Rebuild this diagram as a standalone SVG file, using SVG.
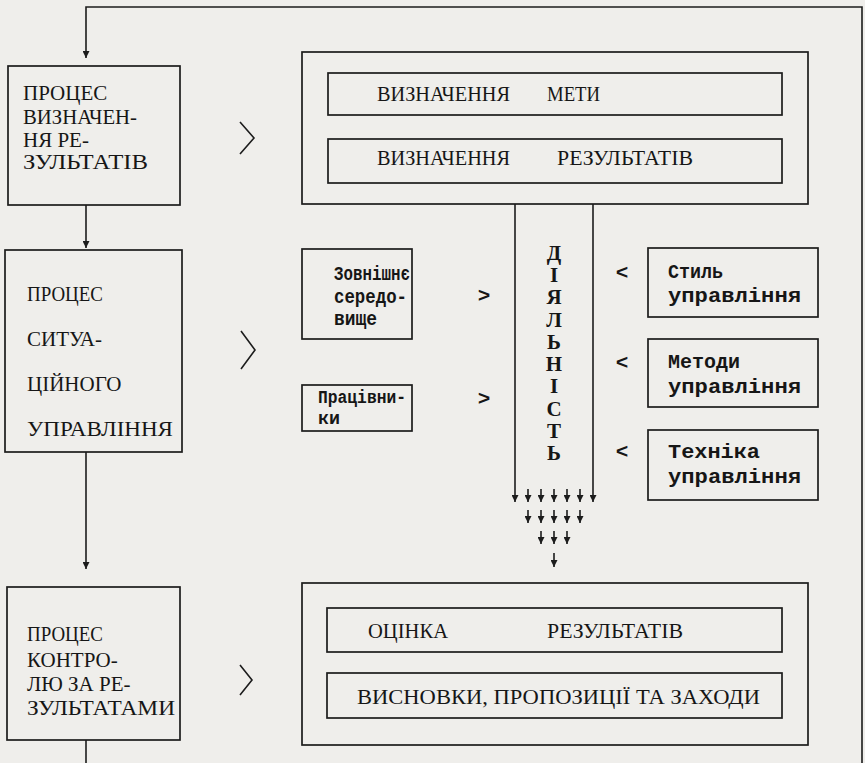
<svg xmlns="http://www.w3.org/2000/svg" width="865" height="763" viewBox="0 0 865 763">
<style>
.bg{fill:#efeeeb}
.box{fill:none;stroke:#1c1c1c;stroke-width:1.7}
.ln{fill:none;stroke:#1c1c1c;stroke-width:1.6}
.cap{font-family:"Liberation Serif","Times New Roman",serif;font-size:21px;fill:#161616}
.mono{font-family:"Liberation Mono","Courier New",monospace;font-size:21px;font-weight:bold;fill:#161616}
.mono2{font-family:"Liberation Mono","Courier New",monospace;font-size:18px;font-weight:bold;fill:#161616}
.vl{font-family:"Liberation Serif","Times New Roman",serif;font-size:21px;font-weight:bold;fill:#161616;text-anchor:middle}
</style>
<defs>
<marker id="ah" viewBox="0 0 10 10" refX="10" refY="5" markerWidth="7" markerHeight="7" markerUnits="userSpaceOnUse" orient="auto"><path d="M0,0 L10,5 L0,10 z" fill="#1c1c1c"/></marker>
</defs>
<rect class="bg" x="0" y="0" width="865" height="763"/>

<g id="connectors">
  <polyline class="ln" points="862,763 862,7 86,7 86,58" marker-end="url(#ah)"/>
  <line class="ln" x1="86" y1="205" x2="86" y2="248" marker-end="url(#ah)"/>
  <line class="ln" x1="86" y1="452" x2="86" y2="569" marker-end="url(#ah)"/>
  <line class="ln" x1="86" y1="740" x2="86" y2="763"/>
  <polyline class="ln" points="240,122 254,138 240,154"/>
  <polyline class="ln" points="241,331 255,350 241,369"/>
  <polyline class="ln" points="240,665 252,680 240,695"/>
  <line class="ln" x1="515" y1="204" x2="515" y2="502" marker-end="url(#ah)"/>
  <line class="ln" x1="593" y1="204" x2="593" y2="502" marker-end="url(#ah)"/>
  <line class="ln" x1="528" y1="489" x2="528" y2="502" marker-end="url(#ah)"/>
  <line class="ln" x1="541" y1="489" x2="541" y2="502" marker-end="url(#ah)"/>
  <line class="ln" x1="554" y1="489" x2="554" y2="502" marker-end="url(#ah)"/>
  <line class="ln" x1="567" y1="489" x2="567" y2="502" marker-end="url(#ah)"/>
  <line class="ln" x1="580" y1="489" x2="580" y2="502" marker-end="url(#ah)"/>
  <line class="ln" x1="528" y1="510" x2="528" y2="523" marker-end="url(#ah)"/>
  <line class="ln" x1="541" y1="510" x2="541" y2="523" marker-end="url(#ah)"/>
  <line class="ln" x1="554" y1="510" x2="554" y2="523" marker-end="url(#ah)"/>
  <line class="ln" x1="567" y1="510" x2="567" y2="523" marker-end="url(#ah)"/>
  <line class="ln" x1="580" y1="510" x2="580" y2="523" marker-end="url(#ah)"/>
  <line class="ln" x1="541" y1="531" x2="541" y2="544" marker-end="url(#ah)"/>
  <line class="ln" x1="554" y1="531" x2="554" y2="544" marker-end="url(#ah)"/>
  <line class="ln" x1="567" y1="531" x2="567" y2="544" marker-end="url(#ah)"/>
  <line class="ln" x1="554" y1="553" x2="554" y2="567" marker-end="url(#ah)"/>
  <text class="mono" x="484" y="302" text-anchor="middle">&gt;</text>
  <text class="mono" x="484" y="405" text-anchor="middle">&gt;</text>
  <text class="mono" x="622" y="279" text-anchor="middle">&lt;</text>
  <text class="mono" x="622" y="369" text-anchor="middle">&lt;</text>
  <text class="mono" x="622" y="458" text-anchor="middle">&lt;</text>
</g>

<g id="proc1">
  <rect class="box" x="8" y="66" width="172" height="139"/>
  <text class="cap" x="23" y="100">ПРОЦЕС</text>
  <text class="cap" x="23" y="124" textLength="114" lengthAdjust="spacingAndGlyphs">ВИЗНАЧЕН-</text>
  <text class="cap" x="23" y="147">НЯ РЕ-</text>
  <text class="cap" x="23" y="169" textLength="125" lengthAdjust="spacingAndGlyphs">ЗУЛЬТАТІВ</text>
</g>

<g id="proc2">
  <rect class="box" x="5" y="250" width="177" height="202"/>
  <text class="cap" x="27" y="301" textLength="76" lengthAdjust="spacingAndGlyphs">ПРОЦЕС</text>
  <text class="cap" x="27" y="346">СИТУА-</text>
  <text class="cap" x="27" y="391">ЦІЙНОГО</text>
  <text class="cap" x="27" y="436" textLength="146" lengthAdjust="spacingAndGlyphs">УПРАВЛІННЯ</text>
</g>

<g id="proc3">
  <rect class="box" x="7" y="587" width="173" height="153"/>
  <text class="cap" x="27" y="641" textLength="76" lengthAdjust="spacingAndGlyphs">ПРОЦЕС</text>
  <text class="cap" x="27" y="667">КОНТРО-</text>
  <text class="cap" x="27" y="691">ЛЮ ЗА РЕ-</text>
  <text class="cap" x="27" y="715" textLength="148" lengthAdjust="spacingAndGlyphs">ЗУЛЬТАТАМИ</text>
</g>

<g id="goals">
  <rect class="box" x="302" y="52" width="506" height="152"/>
  <rect class="box" x="328" y="73" width="454" height="42"/>
  <text class="cap" x="377" y="101" textLength="133" lengthAdjust="spacingAndGlyphs">ВИЗНАЧЕННЯ</text>
  <text class="cap" x="547" y="101" textLength="53" lengthAdjust="spacingAndGlyphs">МЕТИ</text>
  <rect class="box" x="328" y="139" width="454" height="44"/>
  <text class="cap" x="377" y="165" textLength="133" lengthAdjust="spacingAndGlyphs">ВИЗНАЧЕННЯ</text>
  <text class="cap" x="557" y="165" textLength="136" lengthAdjust="spacingAndGlyphs">РЕЗУЛЬТАТІВ</text>
</g>

<g id="environment">
  <rect class="box" x="302" y="249" width="110" height="90"/>
  <text class="mono" x="334" y="280" textLength="76" lengthAdjust="spacingAndGlyphs">Зовнішнє</text>
  <text class="mono" x="334" y="303" textLength="73" lengthAdjust="spacingAndGlyphs">середо-</text>
  <text class="mono" x="334" y="325" textLength="43" lengthAdjust="spacingAndGlyphs">вище</text>
</g>

<g id="workers">
  <rect class="box" x="302" y="385" width="110" height="46"/>
  <text class="mono2" x="318" y="403" textLength="88" lengthAdjust="spacingAndGlyphs">Працівни-</text>
  <text class="mono2" x="318" y="424" textLength="22" lengthAdjust="spacingAndGlyphs">ки</text>
</g>

<g id="activity">
  <text class="vl" x="554" y="260">Д</text>
  <text class="vl" x="554" y="282">І</text>
  <text class="vl" x="554" y="304">Я</text>
  <text class="vl" x="554" y="327">Л</text>
  <text class="vl" x="554" y="349">Ь</text>
  <text class="vl" x="554" y="371">Н</text>
  <text class="vl" x="554" y="393">І</text>
  <text class="vl" x="554" y="416">С</text>
  <text class="vl" x="554" y="438">Т</text>
  <text class="vl" x="554" y="460">Ь</text>
</g>

<g id="style">
  <rect class="box" x="648" y="248" width="170" height="69"/>
  <text class="mono" x="668" y="278" textLength="55" lengthAdjust="spacingAndGlyphs">Стиль</text>
  <text class="mono" x="668" y="302" textLength="133" lengthAdjust="spacingAndGlyphs">управління</text>
</g>

<g id="methods">
  <rect class="box" x="648" y="339" width="170" height="68"/>
  <text class="mono" x="668" y="368" textLength="72" lengthAdjust="spacingAndGlyphs">Методи</text>
  <text class="mono" x="668" y="393" textLength="133" lengthAdjust="spacingAndGlyphs">управління</text>
</g>

<g id="technique">
  <rect class="box" x="648" y="430" width="170" height="70"/>
  <text class="mono" x="668" y="458" textLength="92" lengthAdjust="spacingAndGlyphs">Техніка</text>
  <text class="mono" x="668" y="483" textLength="133" lengthAdjust="spacingAndGlyphs">управління</text>
</g>

<g id="evaluation">
  <rect class="box" x="302" y="583" width="506" height="162"/>
  <rect class="box" x="327" y="608" width="455" height="44"/>
  <text class="cap" x="368" y="638" textLength="80" lengthAdjust="spacingAndGlyphs">ОЦІНКА</text>
  <text class="cap" x="547" y="638" textLength="136" lengthAdjust="spacingAndGlyphs">РЕЗУЛЬТАТІВ</text>
  <rect class="box" x="327" y="673" width="455" height="45"/>
  <text class="cap" x="357" y="704" textLength="403" lengthAdjust="spacingAndGlyphs">ВИСНОВКИ, ПРОПОЗИЦІЇ ТА ЗАХОДИ</text>
</g>
</svg>
